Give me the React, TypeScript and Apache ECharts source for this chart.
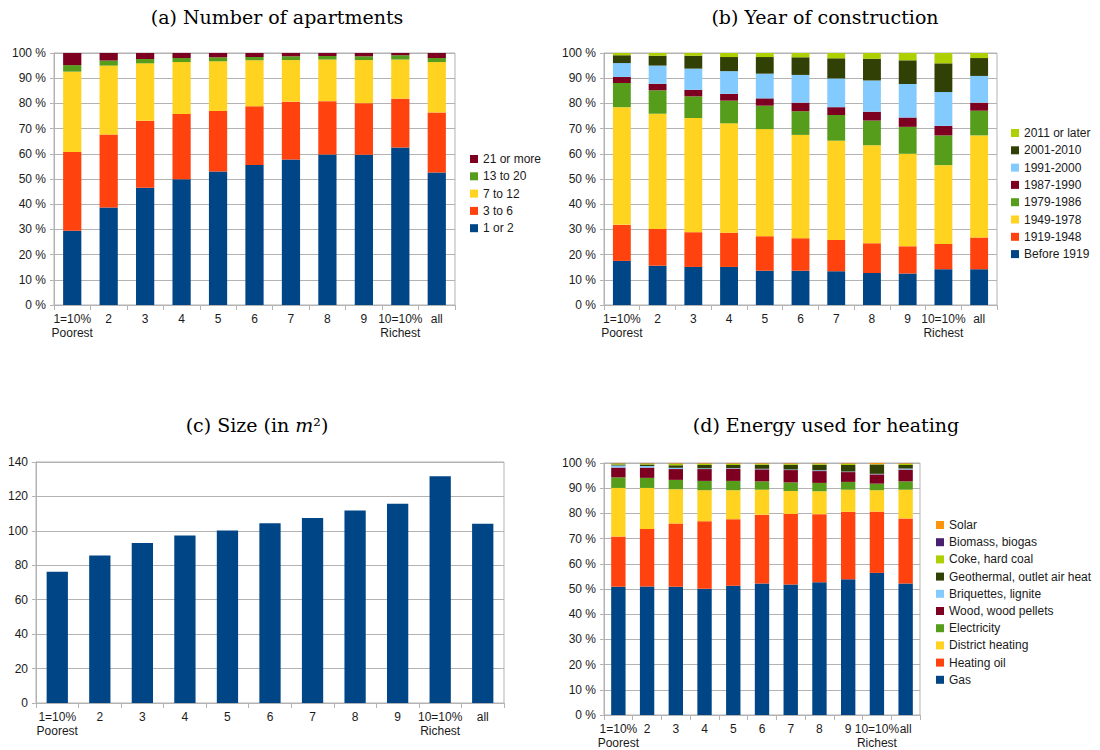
import React, { useEffect, useRef } from "react";
import * as echarts from "echarts";

const categories = ["1=10%\nPoorest", "2", "3", "4", "5", "6", "7", "8", "9", "10=10%\nRichest", "all"];

// (a) Number of apartments (% of households)
const apt1or2 = [29.5, 38.7, 46.5, 49.9, 53.0, 55.6, 57.7, 59.7, 59.6, 62.5, 52.6];
const apt3to6 = [31.2, 29.0, 26.6, 25.9, 24.0, 23.3, 23.0, 21.2, 20.5, 19.4, 23.8];
const apt7to12 = [31.9, 27.3, 22.8, 20.6, 19.7, 18.2, 16.5, 16.5, 17.1, 15.5, 20.0];
const apt13to20 = [2.6, 2.0, 1.7, 1.6, 1.6, 1.3, 1.5, 1.4, 1.5, 1.7, 1.6];
const apt21plus = [4.8, 3.0, 2.4, 2.0, 1.7, 1.6, 1.3, 1.2, 1.3, 0.9, 2.0];

// (b) Year of construction
const before1919 = [17.5, 15.6, 15.1, 15.1, 13.6, 13.6, 13.4, 12.7, 12.5, 14.2, 14.2];
const y1919to1948 = [14.3, 14.6, 13.8, 13.6, 13.7, 12.9, 12.4, 11.8, 10.8, 10.0, 12.6];
const y1949to1978 = [46.7, 45.7, 45.3, 43.4, 42.5, 41.0, 39.4, 38.9, 36.7, 31.3, 40.5];
const y1979to1986 = [9.6, 9.3, 8.6, 9.0, 9.3, 9.4, 10.2, 9.8, 10.7, 11.8, 9.8];
const y1987to1990 = [2.4, 2.6, 2.6, 2.7, 2.9, 3.4, 3.1, 3.5, 3.7, 3.8, 3.2];
const y1991to2000 = [5.5, 7.2, 8.4, 9.0, 9.8, 11.0, 11.4, 12.4, 13.3, 13.4, 10.6];
const y2001to2010 = [3.1, 3.9, 5.1, 5.6, 6.6, 7.0, 8.0, 8.6, 9.4, 11.4, 7.1];
const y2011later = [0.9, 1.1, 1.1, 1.6, 1.6, 1.7, 2.1, 2.3, 2.9, 4.1, 2.0];

// (c) Size in m2
const sizeM2 = [76.3, 85.7, 92.9, 97.3, 100.2, 104.4, 107.5, 111.8, 115.8, 131.7, 104.2];

// (d) Energy used for heating
const gas = [50.9, 51.0, 50.9, 50.1, 51.3, 52.2, 51.8, 52.7, 53.9, 56.4, 52.2];
const heatingOil = [19.9, 22.8, 25.1, 26.8, 26.4, 27.3, 28.0, 27.0, 26.7, 24.3, 25.8];
const districtHeating = [19.3, 16.3, 13.6, 12.3, 11.5, 9.9, 9.1, 9.1, 8.8, 8.5, 11.4];
const electricity = [4.2, 4.0, 3.7, 3.7, 3.7, 3.3, 3.4, 3.3, 3.1, 2.6, 3.3];
const wood = [3.9, 4.1, 4.3, 4.7, 4.9, 4.8, 4.9, 4.7, 3.9, 3.7, 4.7];
const briquettes = [0.8, 0.6, 0.5, 0.3, 0.2, 0.2, 0.2, 0.3, 0.2, 0.2, 0.4];
const geothermal = [0.4, 0.6, 1.0, 1.3, 1.2, 1.6, 1.9, 2.2, 2.6, 3.5, 1.4];
const coke = [0.4, 0.4, 0.6, 0.5, 0.5, 0.4, 0.4, 0.4, 0.5, 0.3, 0.5];
const biomass = [0.1, 0.1, 0.1, 0.1, 0.1, 0.1, 0.1, 0.1, 0.1, 0.1, 0.1];
const solar = [0.1, 0.1, 0.2, 0.2, 0.2, 0.2, 0.2, 0.2, 0.2, 0.4, 0.2];

const palette = ["#004586", "#ff420e", "#ffd320", "#579d1c", "#7e0021", "#83caff", "#314004", "#aecf00", "#4b1f6f", "#ff950e"];

const aptSeries: [string, number[]][] = [
  ["1 or 2", apt1or2],
  ["3 to 6", apt3to6],
  ["7 to 12", apt7to12],
  ["13 to 20", apt13to20],
  ["21 or more", apt21plus],
];
const yearSeries: [string, number[]][] = [
  ["Before 1919", before1919],
  ["1919-1948", y1919to1948],
  ["1949-1978", y1949to1978],
  ["1979-1986", y1979to1986],
  ["1987-1990", y1987to1990],
  ["1991-2000", y1991to2000],
  ["2001-2010", y2001to2010],
  ["2011 or later", y2011later],
];
const heatSeries: [string, number[]][] = [
  ["Gas", gas],
  ["Heating oil", heatingOil],
  ["District heating", districtHeating],
  ["Electricity", electricity],
  ["Wood, wood pellets", wood],
  ["Briquettes, lignite", briquettes],
  ["Geothermal, outlet air heat", geothermal],
  ["Coke, hard coal", coke],
  ["Biomass, biogas", biomass],
  ["Solar", solar],
];

const SANS = "Liberation Sans";
const SERIF = "DejaVu Serif";
const GRID = "#b3b3b3";
const TXT = "#1a1a1a";

function xAxis(gridIndex: number) {
  return {
    type: "category",
    gridIndex,
    data: categories,
    axisLine: { show: true, lineStyle: { color: GRID } },
    axisTick: { show: true, length: 5, lineStyle: { color: GRID } },
    axisLabel: { interval: 0, fontFamily: SANS, fontSize: 12, color: TXT, lineHeight: 14, margin: 7 },
  };
}

function yAxis(gridIndex: number, max: number, interval: number, pct: boolean) {
  return {
    type: "value",
    gridIndex,
    min: 0,
    max,
    interval,
    axisLine: { show: true, lineStyle: { color: GRID } },
    axisTick: { show: true, length: 4, lineStyle: { color: GRID } },
    splitLine: { show: true, lineStyle: { color: GRID, width: 1 } },
    axisLabel: {
      fontFamily: SANS,
      fontSize: 12,
      color: TXT,
      margin: 8,
      formatter: pct ? "{value} %" : "{value}",
    },
  };
}

function stacked(list: [string, number[]][], idx: number, stack: string) {
  return list.map(([name, data], i) => ({
    name,
    type: "bar",
    stack,
    xAxisIndex: idx,
    yAxisIndex: idx,
    barWidth: "50%",
    itemStyle: { color: palette[i] },
    data,
  }));
}

function legend(list: [string, number[]][], left: number, top: number, gap: number) {
  return {
    data: list.map((s) => s[0]).reverse(),
    orient: "vertical",
    left,
    top,
    padding: 0,
    itemGap: gap,
    itemWidth: 8,
    itemHeight: 8,
    icon: "rect",
    selectedMode: false,
    textStyle: { fontFamily: SANS, fontSize: 12, color: TXT, lineHeight: 14 },
  };
}

function title(text: string, x: number, y: number, rich?: any) {
  return {
    type: "text",
    x,
    y,
    style: {
      text,
      fontFamily: SERIF,
      fontSize: 19,
      fill: "#000",
      textAlign: "center",
      textVerticalAlign: "middle",
      rich,
    },
  };
}

export default function App() {
  const ref = useRef<HTMLDivElement>(null);
  useEffect(() => {
    if (!ref.current) return;
    const chart = echarts.init(ref.current, undefined, { renderer: "svg" });
    chart.setOption({
      animation: false,
      backgroundColor: "#ffffff",
      grid: [
        { left: 54, top: 53, width: 401, height: 252, show: true, borderColor: GRID, borderWidth: 1, backgroundColor: "transparent" },
        { left: 604, top: 53, width: 393, height: 252, show: true, borderColor: GRID, borderWidth: 1, backgroundColor: "transparent" },
        { left: 36, top: 462, width: 468, height: 241, show: true, borderColor: GRID, borderWidth: 1, backgroundColor: "transparent" },
        { left: 604, top: 463, width: 316, height: 252, show: true, borderColor: GRID, borderWidth: 1, backgroundColor: "transparent" },
      ],
      xAxis: [xAxis(0), xAxis(1), xAxis(2), xAxis(3)],
      yAxis: [yAxis(0, 100, 10, true), yAxis(1, 100, 10, true), yAxis(2, 140, 20, false), yAxis(3, 100, 10, true)],
      legend: [
        legend(aptSeries, 470, 152, 3.3),
        legend(yearSeries, 1011, 126, 3.3),
        legend(heatSeries, 936, 518, 3.2),
      ],
      series: [
        ...stacked(aptSeries, 0, "a"),
        ...stacked(yearSeries, 1, "b"),
        {
          name: "Size",
          type: "bar",
          xAxisIndex: 2,
          yAxisIndex: 2,
          barWidth: "50%",
          itemStyle: { color: palette[0] },
          data: sizeM2,
        },
        ...stacked(heatSeries, 3, "d"),
      ],
      graphic: [
        title("(a) Number of apartments", 277, 17),
        title("(b) Year of construction", 825, 17),
        title("(c) Size (in {i|m}²)", 257, 425, {
          i: { fontFamily: SERIF, fontSize: 19, fontStyle: "italic", fill: "#000" },
        }),
        title("(d) Energy used for heating", 826, 425),
      ],
    });
    return () => chart.dispose();
  }, []);
  return <div ref={ref} style={{ position: "absolute", left: 0, top: 0, width: 1100, height: 750 }} />;
}
